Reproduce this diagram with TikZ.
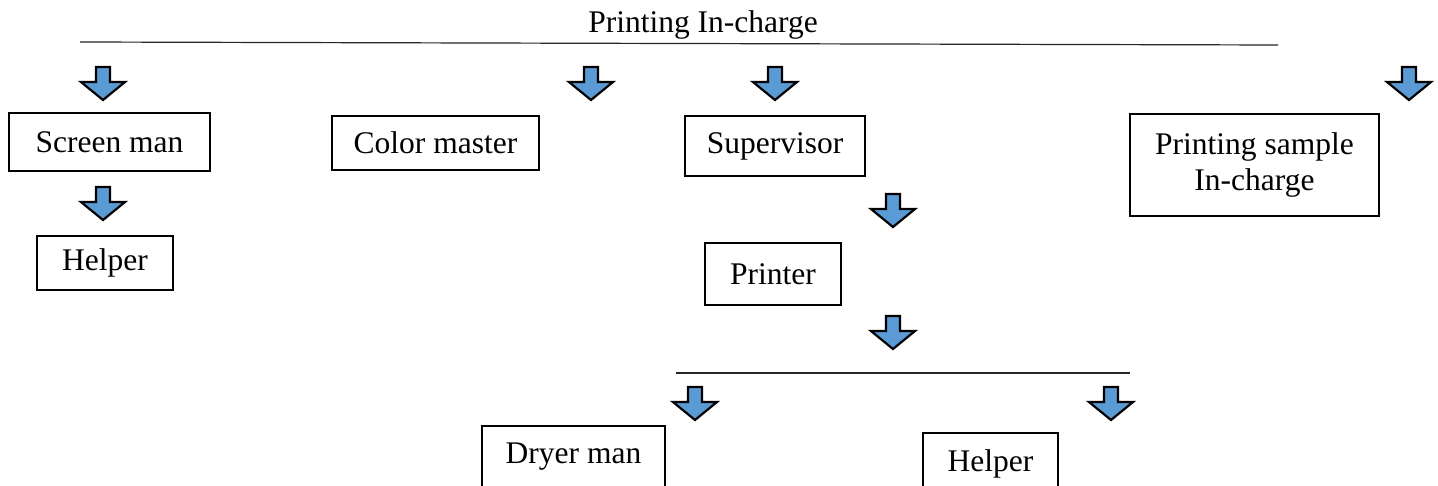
\documentclass[tikz,border=0pt]{standalone}
\usepackage{fontspec}
\setmainfont{Liberation Serif}
\definecolor{arrowblue}{HTML}{5B9BD5}
\tikzset{
  rolebox/.style={draw=black, line width=1.6pt, fill=white, inner sep=0pt,
    align=center, font=\fontsize{31.5}{36}\selectfont},
  downarrow/.pic={
    \draw[line width=2.2pt, fill=arrowblue, line join=miter]
      (-7,0) -- (7,0) -- (7,15) -- (22,15) -- (0,33) -- (-22,15) -- (-7,15) -- cycle;
  },
  ruleline/.style={line width=1.2pt, draw=black!85}
}
\begin{document}
\begin{tikzpicture}[x=1pt, y=-1pt]
  \useasboundingbox (0,0) rectangle (1438,486);

  % head of the department and the dividing rule beneath it
  \node[font=\fontsize{31.5}{36}\selectfont, anchor=base] (head) at (703,33) {Printing In-charge};
  \coordinate (topL) at (80,42);
  \coordinate (topR) at (1278,45);
  \draw[ruleline] (topL) -- (topR);

  % first level
  \node[rolebox, minimum width=201pt, minimum height=58pt] (screen) at (109.5,142) {Screen man};
  \node[rolebox, minimum width=207pt, minimum height=54pt] (color) at (435.5,143) {Color master};
  \node[rolebox, minimum width=180pt, minimum height=60pt] (super) at (775,146) {Supervisor};
  \node[rolebox, minimum width=249pt, minimum height=102pt] (sample) at (1254.5,165) {Printing sample\\In-charge};

  % second level
  \node[rolebox, minimum width=136pt, minimum height=54pt] (helperA) at (105,263) {Helper};
  \node[rolebox, minimum width=136pt, minimum height=62pt] (printer) at (773,274) {Printer};

  % rule under the printer
  \coordinate (midL) at (676,373);
  \coordinate (midR) at (1130,373);
  \draw[ruleline] (midL) -- (midR);

  % third level
  \node[rolebox, minimum width=183pt, minimum height=62pt] (dryer) at (573.5,457) {Dryer man};
  \node[rolebox, minimum width=135pt, minimum height=62pt] (helperB) at (990.5,464) {Helper};

  % block arrows
  \pic (arrScreen)  at (103,67)   {downarrow};
  \pic (arrHelperA) at (103,187)  {downarrow};
  \pic (arrColor)   at (591,67)   {downarrow};
  \pic (arrSuper)   at (775,67)   {downarrow};
  \pic (arrPrinter) at (893,194)  {downarrow};
  \pic (arrRule)    at (893,316)  {downarrow};
  \pic (arrSample)  at (1409,67)  {downarrow};
  \pic (arrDryer)   at (695,387)  {downarrow};
  \pic (arrHelperB) at (1111,387) {downarrow};
\end{tikzpicture}
\end{document}
